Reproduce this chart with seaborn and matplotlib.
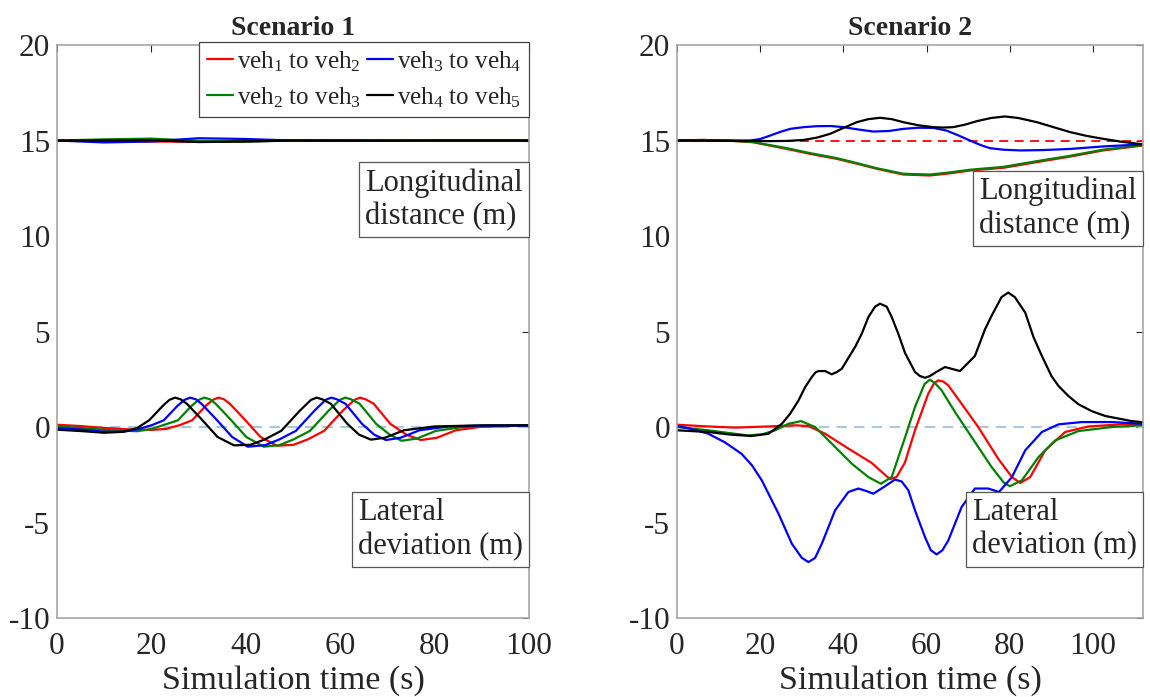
import matplotlib
matplotlib.use('Agg')
import matplotlib.pyplot as plt
import seaborn as sns

# ---- data ----
pair_labels = [r'veh$_{\rm 1}$ to veh$_{\rm 2}$', r'veh$_{\rm 2}$ to veh$_{\rm 3}$',
               r'veh$_{\rm 3}$ to veh$_{\rm 4}$', r'veh$_{\rm 4}$ to veh$_{\rm 5}$']
pair_colors = ['#ff0000', '#008000', '#0000ff', '#000000']

# Scenario 1 - longitudinal distance (m)
s1_lon_t = [0, 10, 20, 30, 40, 50, 60, 70, 80, 100]
s1_lon_red = [15, 14.97, 14.95, 14.93, 14.96, 15.0, 15.02, 15.0, 15.0, 15.0]
s1_lon_green = [15, 15.06, 15.1, 14.98, 14.95, 15.0, 15.02, 15.0, 15.0, 15.0]
s1_lon_blue = [15, 14.9, 14.95, 15.12, 15.08, 15.0, 14.98, 15.0, 15.0, 15.0]
s1_lon_black = [15, 15.0, 15.02, 14.92, 14.95, 15.0, 15.0, 14.99, 15.0, 15.0]

# Scenario 1 - lateral deviation (m)
s1_lat_red_t = [0, 5, 10, 15, 20, 23.1, 26, 28.6, 31.6, 33, 34.2, 35.4, 36.6, 39.6, 43.1, 46.6, 50.1, 53.1,
                56.6, 60.6, 63, 64.2, 65.4, 67.1, 70.6, 74, 77.1, 80.5, 84.5, 90, 100]
s1_lat_red = [0.12, 0.05, -0.05, -0.12, -0.15, -0.1, 0.1, 0.35, 1.13, 1.42, 1.54, 1.45, 1.22, 0.44, -0.52, -0.98,
              -0.93, -0.65, -0.2, 0.87, 1.42, 1.54, 1.45, 1.22, 0.17, -0.4, -0.68, -0.56, -0.17, 0.02, 0.08]
s1_lat_green_t = [0, 5, 10, 15, 17, 20.1, 22.5, 25.6, 28.6, 30, 31.2, 32.4, 33.6, 36.6, 40.1, 43.8, 47.1, 50.1,
                  53.6, 57.6, 59.9, 61.1, 62.3, 64.1, 67.6, 70.5, 73, 76.3, 80.3, 86, 100]
s1_lat_green = [0.03, -0.05, -0.15, -0.2, -0.22, -0.1, 0.1, 0.35, 1.13, 1.42, 1.54, 1.45, 1.22, 0.44, -0.52, -1.03,
                -0.95, -0.65, -0.2, 0.87, 1.42, 1.54, 1.45, 1.22, 0.17, -0.4, -0.72, -0.6, -0.2, 0.0, 0.08]
s1_lat_blue_t = [0, 5, 10, 14, 17.1, 20.1, 22.6, 25.6, 27, 28.2, 29.4, 30.6, 33.6, 37.1, 40.4, 44.1, 47.1, 50.6,
                 54.6, 56.9, 58.1, 59.3, 61.1, 64.6, 67.2, 69.7, 72.8, 76.8, 83, 90, 100]
s1_lat_blue = [-0.05, -0.13, -0.25, -0.25, -0.12, 0.1, 0.35, 1.13, 1.42, 1.54, 1.45, 1.22, 0.44, -0.52, -1.03,
               -0.95, -0.65, -0.2, 0.87, 1.42, 1.54, 1.45, 1.22, 0.17, -0.4, -0.68, -0.56, -0.17, 0.03, 0.07, 0.08]
s1_lat_black_t = [0, 5, 10, 14, 17, 19.5, 22.5, 23.8, 25, 26.2, 27.5, 30.5, 34, 37.5, 41, 44, 47.5, 51.5,
                  53.8, 55, 56.2, 58, 61.5, 64, 66.5, 69.5, 73.5, 80, 90, 100]
s1_lat_black = [-0.14, -0.21, -0.3, -0.25, -0.05, 0.35, 1.13, 1.42, 1.54, 1.45, 1.22, 0.44, -0.52, -0.96, -0.93,
                -0.65, -0.2, 0.87, 1.42, 1.54, 1.45, 1.22, 0.17, -0.4, -0.66, -0.56, -0.17, 0.03, 0.09, 0.09]

# Scenario 2 - longitudinal distance (m)
s2_lon_red_t = [0, 6, 12, 18.3, 26.4, 32, 38.4, 43, 48, 54.4, 60.8, 65.5, 70.4, 78.4, 86.5, 94.5, 102.4, 112]
s2_lon_red = [15, 15.03, 15.0, 14.91, 14.56, 14.3, 14.04, 13.8, 13.52, 13.22, 13.17, 13.28, 13.43, 13.57, 13.87,
              14.16, 14.48, 14.74]
s2_lon_green_t = [0, 6, 12, 18.3, 26.4, 32, 38.4, 43, 48, 54.4, 60.8, 65.5, 70.4, 78.4, 86.5, 94.5, 102.4, 112]
s2_lon_green = [15, 15.03, 15.0, 14.92, 14.6, 14.34, 14.08, 13.83, 13.55, 13.26, 13.22, 13.33, 13.47, 13.62, 13.92,
                14.2, 14.52, 14.76]
s2_lon_blue_t = [0, 17.5, 20, 22.4, 24.8, 27.2, 30.4, 33.6, 37, 40, 43.5, 47.2, 51, 54.4, 58, 61.6, 64.8, 67.5,
                 70.4, 73, 75.2, 78.5, 82.5, 88, 94.5, 102.4, 112]
s2_lon_blue = [15, 15.0, 15.08, 15.26, 15.45, 15.61, 15.7, 15.75, 15.76, 15.7, 15.58, 15.47, 15.5, 15.61, 15.67,
               15.66, 15.52, 15.28, 15.0, 14.76, 14.6, 14.52, 14.48, 14.5, 14.56, 14.69, 14.8]
s2_lon_black_t = [0, 22.4, 26.5, 30.4, 33.6, 36.8, 40, 43.2, 46, 48.8, 51.6, 54.4, 58, 61.6, 64, 66.4, 69.2, 72,
                  75.5, 78.8, 82, 86.5, 90.5, 94.5, 98.5, 102.4, 107, 112]
s2_lon_black = [15, 14.97, 14.98, 15.03, 15.15, 15.35, 15.66, 15.96, 16.12, 16.19, 16.12, 15.96, 15.8, 15.7, 15.68,
                15.7, 15.83, 16.01, 16.18, 16.26, 16.18, 15.96, 15.7, 15.44, 15.24, 15.09, 14.93, 14.8]

# Scenario 2 - lateral deviation (m)
s2_lat_red_t = [0, 7.5, 14, 22, 28.4, 31.6, 35.6, 41.2, 46.8, 49.2, 51.2, 52.8, 54.8, 57.2, 60.4, 61.8, 62.8, 64,
                65.2, 68.4, 72.4, 77.2, 80.5, 82.5, 84.9, 88.5, 93.3, 98.9, 106.9, 112]
s2_lat_red = [0.12, 0.03, -0.03, 0.03, 0.09, 0.05, -0.35, -1.13, -1.88, -2.35, -2.73, -2.61, -1.85, -0.17, 1.75,
              2.3, 2.44, 2.38, 2.18, 1.22, 0.0, -1.66, -2.62, -2.93, -2.62, -1.22, -0.26, 0.03, 0.14, 0.14]
s2_lat_green_t = [0, 7.5, 12, 17.1, 20.5, 23.6, 26.8, 29.8, 33.2, 37.2, 42, 46, 49, 51.6, 54.8, 57.2, 59.5, 60.8,
                  62, 63.6, 66.8, 70.8, 75.6, 78.5, 80, 82.9, 86.9, 90.9, 96.5, 104.5, 112]
s2_lat_green = [0.0, -0.17, -0.3, -0.44, -0.38, -0.17, 0.17, 0.31, 0.0, -0.87, -1.92, -2.62, -2.97, -2.62, -0.55,
                1.05, 2.25, 2.48, 2.3, 1.92, 0.79, -0.52, -2.09, -2.9, -3.1, -2.79, -1.57, -0.7, -0.21, 0.0, 0.09]
s2_lat_blue_t = [0, 3.5, 7.5, 11.5, 15.5, 18, 20.4, 24.4, 27.6, 30, 31.6, 33.2, 34.8, 38, 41.2, 43.6, 45.5, 47.2,
                 50, 52.4, 54, 55.6, 57.2, 59.6, 61, 62.4, 63.8, 65.2, 68.4, 71.6, 74.8, 77.4, 80.5, 83.7, 87.7,
                 91.7, 97.3, 104.5, 112]
s2_lat_blue = [0.05, -0.1, -0.35, -0.8, -1.4, -2.0, -2.8, -4.54, -6.11, -6.85, -7.07, -6.85, -6.11, -4.36, -3.4,
               -3.22, -3.35, -3.49, -3.1, -2.75, -2.85, -3.31, -4.36, -5.76, -6.45, -6.67, -6.45, -5.94, -4.19,
               -3.22, -3.22, -3.4, -2.62, -1.22, -0.26, 0.14, 0.26, 0.26, 0.17]
s2_lat_black_t = [0, 7.5, 13, 18, 22, 25.2, 27.2, 29.2, 30.8, 32.4, 33.3, 34, 35.6, 37.2, 38.4, 39.6, 42.8, 44.4,
                  46, 47.6, 48.8, 50.4, 51.6, 53.2, 54.8, 57.2, 58.4, 59.6, 60.8, 62, 64.4, 66, 68, 71.6, 74,
                  75.6, 78, 79.6, 81.2, 83.7, 85.7, 87.7, 90, 91.7, 94.1, 96.5, 99.7, 102.9, 109.3, 112]
s2_lat_black = [-0.17, -0.26, -0.4, -0.47, -0.35, 0.17, 0.7, 1.39, 2.09, 2.62, 2.86, 2.93, 2.93, 2.76, 2.88, 3.05,
                4.19, 4.88, 5.76, 6.3, 6.46, 6.3, 5.76, 4.88, 3.88, 2.88, 2.67, 2.58, 2.67, 2.84, 3.14, 3.05,
                2.93, 3.72, 5.1, 5.82, 6.8, 7.04, 6.8, 5.99, 4.7, 3.72, 2.67, 2.15, 1.62, 1.19, 0.83, 0.58, 0.31,
                0.25]

ref_lon = 15
ref_lat = 0
x_ticks = [0, 20, 40, 60, 80, 100]
y_ticks = [-10, -5, 0, 5, 10, 15, 20]


def draw_panel(ax, series, xmax, title):
    ax.axhline(ref_lon, color='#ff0000', ls=(0, (5, 3.5)), lw=1.3, zorder=1)
    ax.axhline(ref_lat, color='#a8c8e0', ls=(0, (5, 3.5)), lw=1.5, zorder=1)
    for i, (t_lon, v_lon, t_lat, v_lat) in enumerate(series):
        sns.lineplot(x=t_lon, y=v_lon, ax=ax, color=pair_colors[i], lw=1.6,
                     estimator=None, sort=False, label=pair_labels[i])
        sns.lineplot(x=t_lat, y=v_lat, ax=ax, color=pair_colors[i], lw=1.6,
                     estimator=None, sort=False)
    ax.set_xlim(0, xmax)
    ax.set_ylim(-10, 20)
    ax.set_xticks(x_ticks)
    ax.set_yticks(y_ticks)
    ax.set_xlabel('Simulation time (s)', fontsize=24.5, labelpad=3)
    ax.set_ylabel('')
    ax.set_title(title, fontsize=20, fontweight='bold', pad=7)
    ax.tick_params(direction='in', length=5, width=0.8, color='#262626',
                   top=True, right=True, labelsize=22.5, pad=5)
    ax.tick_params(axis='x', pad=10)
    for sp in ax.spines.values():
        sp.set_color('#a6a6a6')
        sp.set_linewidth(1.2)
        sp.set_visible(True)


sns.set_theme(style='white')
plt.rcParams['font.family'] = ['Liberation Serif', 'DejaVu Serif']
plt.rcParams['mathtext.fontset'] = 'custom'
plt.rcParams['mathtext.rm'] = 'Liberation Serif'
plt.rcParams['mathtext.it'] = 'Liberation Serif:italic'
plt.rcParams['axes.unicode_minus'] = False
plt.rcParams['text.color'] = '#262626'
plt.rcParams['xtick.color'] = '#262626'
plt.rcParams['ytick.color'] = '#262626'

fig = plt.figure(figsize=(11.5, 6.97), dpi=100)
ax1 = fig.add_axes([0.0496, 0.1133, 0.4104, 0.8221])
ax2 = fig.add_axes([0.5887, 0.1133, 0.4052, 0.8221])

s1 = [(s1_lon_t, s1_lon_red, s1_lat_red_t, s1_lat_red),
      (s1_lon_t, s1_lon_green, s1_lat_green_t, s1_lat_green),
      (s1_lon_t, s1_lon_blue, s1_lat_blue_t, s1_lat_blue),
      (s1_lon_t, s1_lon_black, s1_lat_black_t, s1_lat_black)]
s2 = [(s2_lon_red_t, s2_lon_red, s2_lat_red_t, s2_lat_red),
      (s2_lon_green_t, s2_lon_green, s2_lat_green_t, s2_lat_green),
      (s2_lon_blue_t, s2_lon_blue, s2_lat_blue_t, s2_lat_blue),
      (s2_lon_black_t, s2_lon_black, s2_lat_black_t, s2_lat_black)]

draw_panel(ax1, s1, 100, 'Scenario 1')
draw_panel(ax2, s2, 112, 'Scenario 2')

leg = ax1.legend(ncol=2, loc='upper right', bbox_to_anchor=(1.0, 1.006), fontsize=18,
                 handlelength=1.05, handletextpad=0.15, columnspacing=0.25, borderpad=0.3,
                 labelspacing=0.45, borderaxespad=0.0, fancybox=False, framealpha=1,
                 edgecolor='#444444')
leg.get_frame().set_linewidth(0.9)
ax2.get_legend().remove()

box = dict(boxstyle='square,pad=0.2', fc='white', ec='#555555', lw=0.9)
ax1.text(0.987, 0.73, 'Longitudinal\ndistance (m)', transform=ax1.transAxes, ha='right', va='center',
         multialignment='left', fontsize=22, bbox=box, linespacing=1.2, zorder=5)
ax1.text(0.987, 0.154, 'Lateral\ndeviation (m)', transform=ax1.transAxes, ha='right', va='center',
         multialignment='left', fontsize=22, bbox=box, linespacing=1.2, zorder=5)
ax2.text(0.987, 0.715, 'Longitudinal\ndistance (m)', transform=ax2.transAxes, ha='right', va='center',
         multialignment='left', fontsize=22, bbox=box, linespacing=1.2, zorder=5)
ax2.text(0.987, 0.155, 'Lateral\ndeviation (m)', transform=ax2.transAxes, ha='right', va='center',
         multialignment='left', fontsize=22, bbox=box, linespacing=1.2, zorder=5)

fig.savefig('out.png', dpi=100)
